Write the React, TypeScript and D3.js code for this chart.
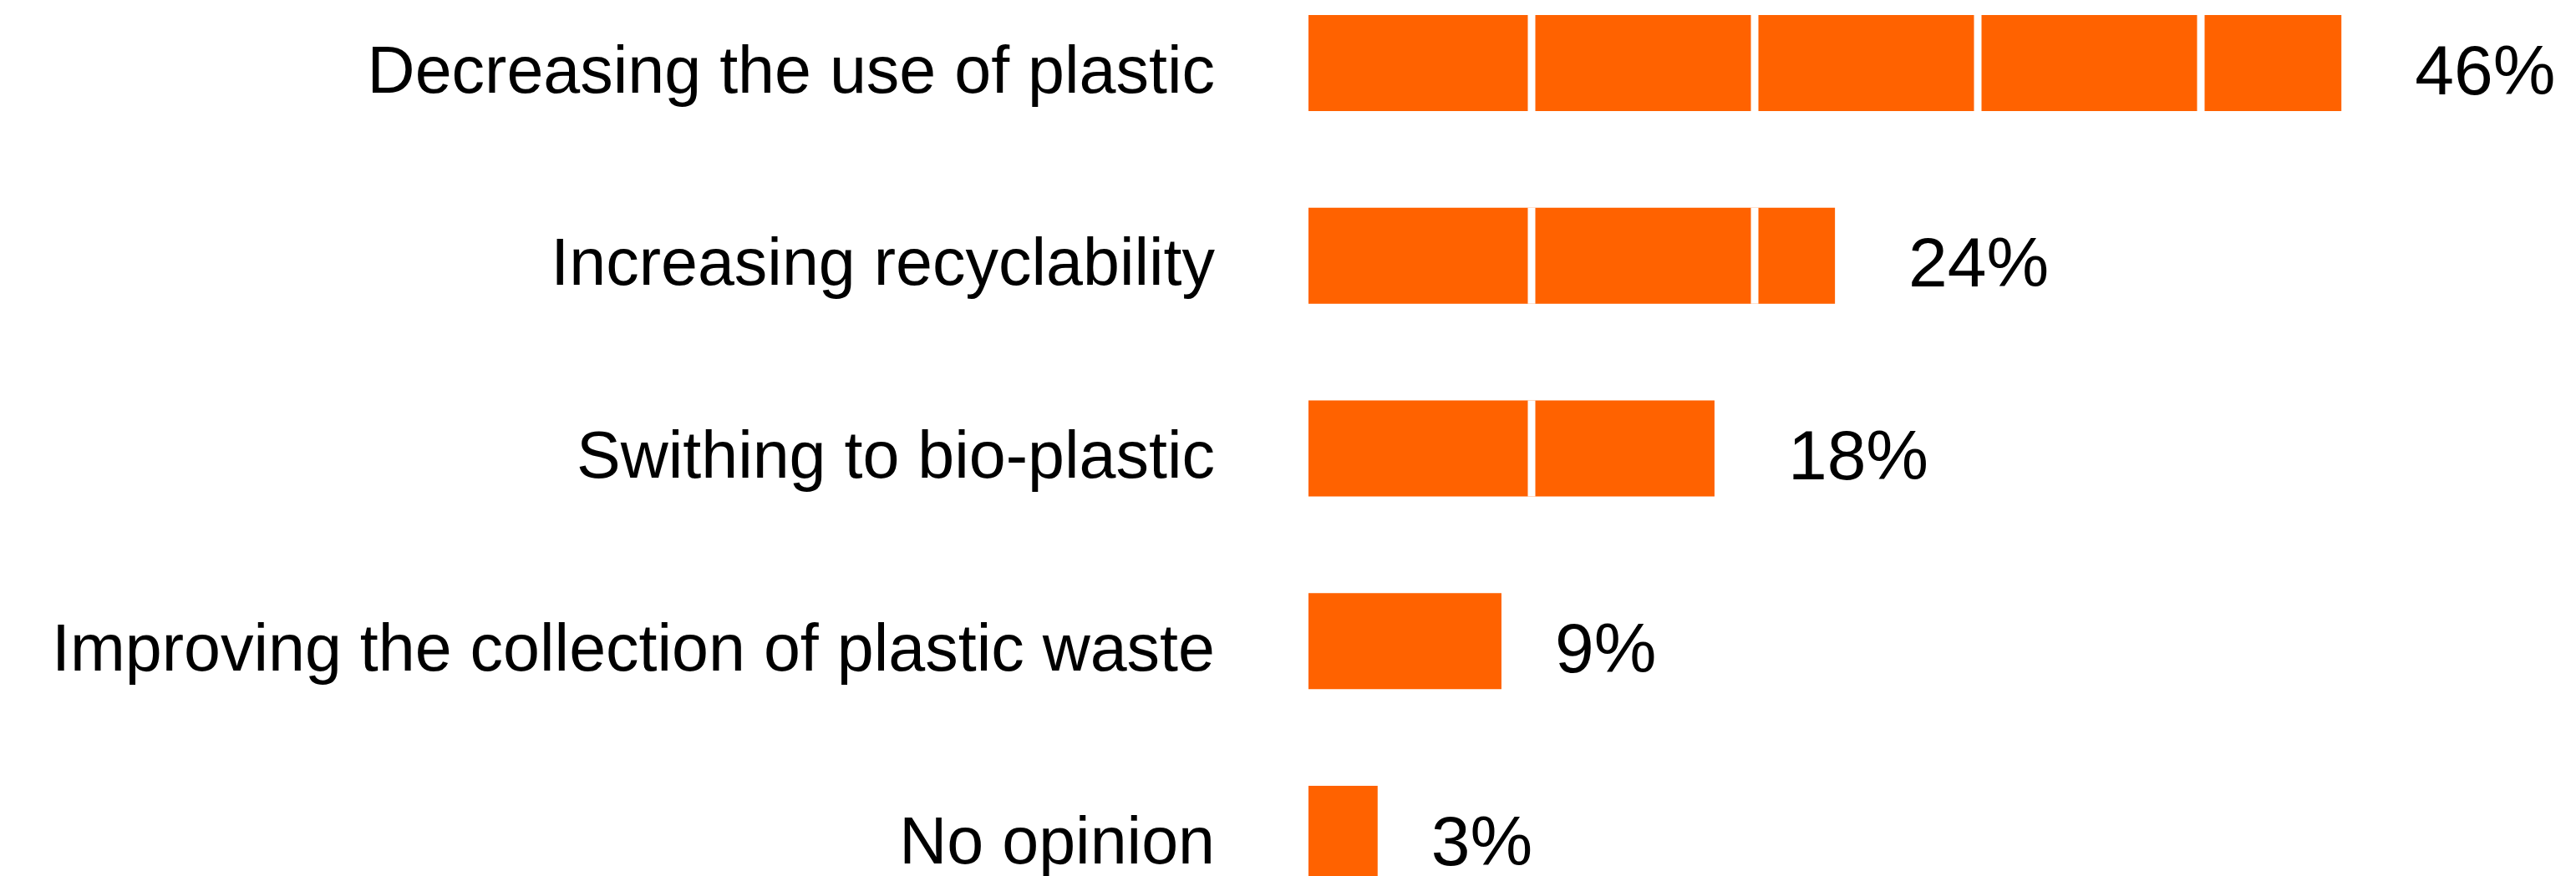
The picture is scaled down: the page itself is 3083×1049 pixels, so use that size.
import React from "react";
import * as d3 from "d3";

// ---- data ----
const categories: string[] = [
  "Decreasing the use of plastic",
  "Increasing recyclability",
  "Swithing to bio-plastic",
  "Improving the collection of plastic waste",
  "No opinion",
];
const shares: number[] = [46.3, 23.6, 18.2, 8.65, 3.1];
const gridTicks: number[] = [10, 20, 30, 40];

// ---- layout ----
const W = 3083;
const H = 1049;
const X0 = 1566;
const PX_PER_10 = 267;
const STEP = 230.75;
const BAR_H = 115;
const FIRST_TOP = 18;
const ORANGE = "#FF6200";
const FONT = '"Liberation Sans", Arial, sans-serif';

export default function App() {
  const x = d3.scaleLinear().domain([0, 50]).range([X0, X0 + 5 * PX_PER_10]);
  const pi = 1 - BAR_H / STEP;
  const po = pi / 2;
  const start = FIRST_TOP - po * STEP;
  const y = d3
    .scaleBand<string>()
    .domain(categories)
    .range([start, start + categories.length * STEP])
    .paddingInner(pi)
    .paddingOuter(po);

  return (
    <svg
      width={W}
      height={H}
      style={{ position: "absolute", left: 0, top: 0, background: "#fff" }}
      fontFamily={FONT}
    >
      <rect x={0} y={0} width={W} height={H} fill="#fff" />
      {categories.map((c, i) => {
        const yy = y(c)!;
        const bw = y.bandwidth();
        const cy = yy + bw / 2;
        const v = shares[i];
        const label = `${Math.round(v)}%`;
        const digits = String(Math.round(v)).length;
        const gap = 40 + 24 * digits;
        return (
          <g key={c}>
            <rect x={x(0)} y={yy} width={x(v) - x(0)} height={bw} fill={ORANGE} />
            {gridTicks
              .filter((t) => t < v)
              .map((t) => (
                <line
                  key={t}
                  x1={x(t)}
                  x2={x(t)}
                  y1={yy}
                  y2={yy + bw}
                  stroke="#fff"
                  strokeWidth={9}
                />
              ))}
            <text
              x={x(0) - 112}
              y={cy + 35}
              textAnchor="end"
              fontSize={79}
              fill="#000"
            >
              {c}
            </text>
            <text x={x(v) + gap} y={cy + 37} fontSize={84} fill="#000">
              {label}
            </text>
          </g>
        );
      })}
    </svg>
  );
}
